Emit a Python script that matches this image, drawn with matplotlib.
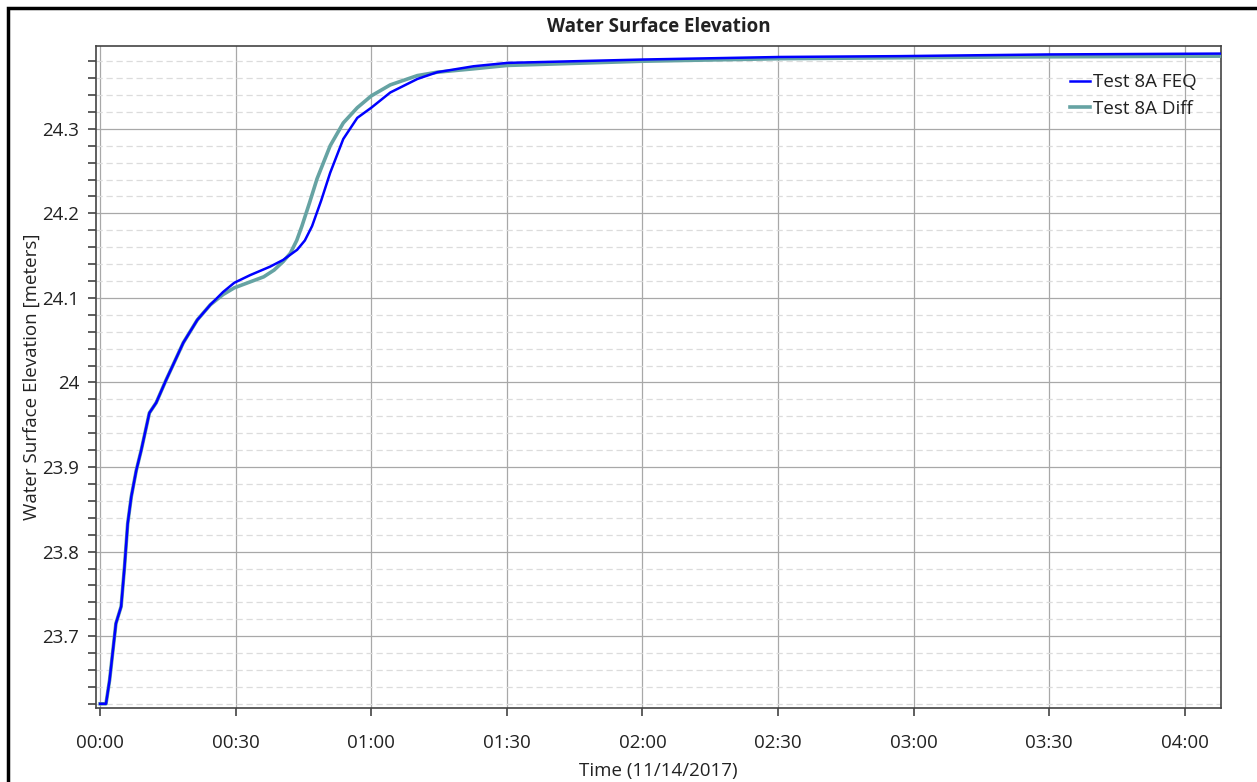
import numpy as np
import matplotlib
matplotlib.use('Agg')
import matplotlib.pyplot as plt
from matplotlib.patches import Rectangle
from matplotlib.ticker import MultipleLocator, FuncFormatter

# ── data (minutes after 00:00, water surface elevation in metres) ─────────────
FEQ_T = [0, 1.3, 2.1, 3.5, 4.65, 5.4, 6.1, 6.9, 8.0, 9.1, 10.9, 12.4, 14.6,
         15.9, 18.4, 21.5, 24.4, 27.2, 29.7, 33.2, 37.6, 40.5, 43.6, 45.3,
         46.9, 48.9, 50.9, 53.8, 56.9, 60.0, 64.2, 70.2, 74.6, 82.6, 90.1,
         120.2, 150.5, 177, 210, 248]
FEQ_WSE = [23.620, 23.620, 23.648, 23.715, 23.735, 23.782, 23.833, 23.865,
           23.896, 23.920, 23.964, 23.976, 24.003, 24.018, 24.047, 24.074,
           24.092, 24.107, 24.118, 24.127, 24.137, 24.145, 24.157, 24.168,
           24.185, 24.215, 24.248, 24.288, 24.313, 24.325, 24.343, 24.359,
           24.367, 24.374, 24.378, 24.382, 24.385, 24.386, 24.388, 24.389]

DIFF_T = [0, 1.3, 2.1, 3.5, 4.65, 5.4, 6.1, 6.9, 8.0, 9.1, 10.9, 12.4, 14.6,
          15.9, 18.4, 21.5, 24.4, 27.2, 29.7, 33.2, 36.2, 38.5, 40.5, 42.1,
          43.5, 44.65, 46.3, 48.0, 50.9, 53.8, 56.9, 60.0, 64.2, 70.2, 74.6,
          82.6, 90.1, 120.2, 150.5, 200, 248]
DIFF_WSE = [23.620, 23.620, 23.648, 23.715, 23.735, 23.782, 23.833, 23.865,
            23.896, 23.920, 23.964, 23.976, 24.003, 24.018, 24.047, 24.074,
            24.092, 24.104, 24.112, 24.119, 24.125, 24.133, 24.143, 24.153,
            24.168, 24.185, 24.212, 24.241, 24.280, 24.307, 24.325, 24.339,
            24.352, 24.363, 24.367, 24.371, 24.375, 24.380, 24.383, 24.385,
            24.386]

SERIES_LABELS = ['Test 8A FEQ', 'Test 8A Diff']
COLORS = ['#0000FF', '#66A3A3']

plt.rcParams['font.family'] = ['Open Sans', 'DejaVu Sans']
TXT = '#222222'
FS = 13.5

fig = plt.figure(figsize=(12.57, 7.82), dpi=100)
ax = fig.add_axes([0.0764, 0.0946, 0.8950, 0.8466])

ax.plot(DIFF_T, DIFF_WSE, color=COLORS[1], lw=2.6, label=SERIES_LABELS[1], zorder=3)
ax.plot(FEQ_T, FEQ_WSE, color=COLORS[0], lw=1.8, label=SERIES_LABELS[0], zorder=4)

ax.set_xlim(-0.9, 248)
ax.set_ylim(23.615, 24.398)

ax.xaxis.set_major_locator(MultipleLocator(30))
ax.xaxis.set_major_formatter(FuncFormatter(lambda v, p: f'{int(v) // 60:02d}:{int(v) % 60:02d}'))
ax.yaxis.set_major_locator(MultipleLocator(0.1))
ax.yaxis.set_minor_locator(MultipleLocator(0.02))
ax.yaxis.set_major_formatter(FuncFormatter(lambda v, p: f'{v:g}'))

ax.grid(True, which='major', color='#a8a8a8', lw=0.9)
ax.grid(True, which='minor', axis='y', color='#dcdcdc', lw=0.9, ls=(0, (5, 3)))
ax.set_axisbelow(True)

ax.tick_params(axis='both', which='both', direction='out', length=6, width=1.1,
               color='#333333', labelsize=FS, labelcolor=TXT)
ax.tick_params(axis='x', pad=13)
ax.tick_params(axis='y', pad=6)
for s in ax.spines.values():
    s.set_color('#444444')
    s.set_linewidth(1.2)

ax.set_xlabel('Time (11/14/2017)', fontsize=FS, color=TXT, labelpad=7)
ax.set_ylabel('Water Surface Elevation [meters]', fontsize=FS, color=TXT, labelpad=1)
ax.set_title('Water Surface Elevation', fontsize=FS, fontweight='bold', color=TXT, pad=10)

handles, labels = ax.get_legend_handles_labels()
leg = ax.legend(handles[::-1], labels[::-1], loc='upper right', bbox_to_anchor=(0.985, 0.97),
                frameon=False, fontsize=FS, handlelength=1.1, handletextpad=0.15,
                labelspacing=0.45, borderaxespad=0)
for t in leg.get_texts():
    t.set_color(TXT)

# outer frame (only left and top edges visible in the source image)
fig.patches.append(Rectangle((8 / 1257, -0.5), 2, 0.5 + (782 - 8) / 782,
                             transform=fig.transFigure, fill=False,
                             edgecolor='black', lw=2.5, zorder=10))

fig.savefig('out.png', dpi=100)
